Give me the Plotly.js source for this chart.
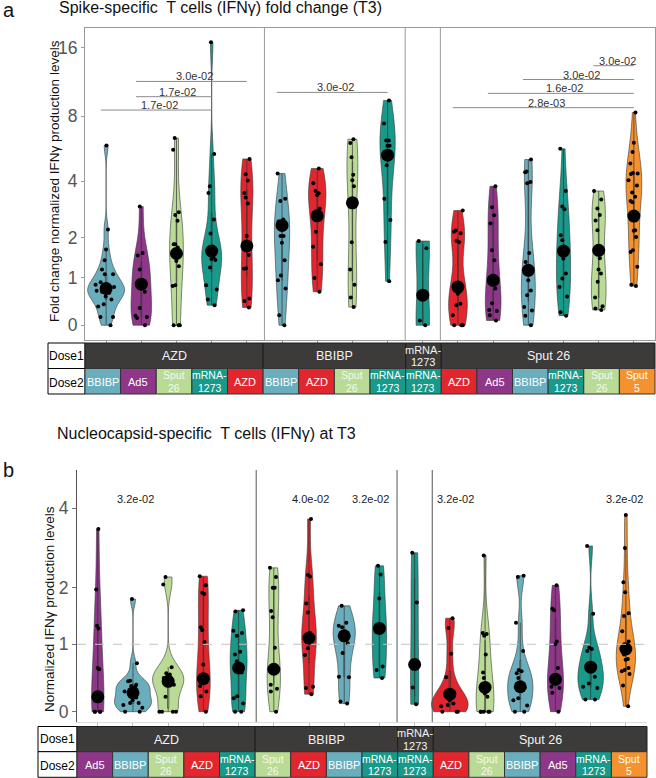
<!DOCTYPE html>
<html><head><meta charset="utf-8">
<script src="https://cdn.plot.ly/plotly-3.0.1.min.js"></script>
<style>body{margin:0;background:#fff}#chart{width:656px;height:778px}</style>
</head><body><div id="chart"></div>
<script>
// ---------------- DATA ----------------
const dose1Groups = ['AZD', 'BBIBP', 'mRNA-1273', 'Sput 26'];
const dose1Counts = [5, 4, 1, 6];

const spikeDose2 = ['BBIBP','Ad5','Sput 26','mRNA-1273','AZD','BBIBP','AZD','Sput 26','mRNA-1273','mRNA-1273','AZD','Ad5','BBIBP','mRNA-1273','Sput 26','Sput 5'];
const spikeValues = [
  [6.2, 2.28, 1.7, 1.43, 1.2, 1.08, 1.08, 0.9, 0.85, 0.8, 0.78, 0.75, 0.72, 0.7, 0.68, 0.6, 0.54, 0.44, 0.39, 0.17, 0.17, 0],
  [3.1, 1.61, 1.55, 1.2, 0.94, 0.94, 0.7, 0.36, 0.2, 0.17, 0.15, 0],
  [6.65, 5.93, 2.9, 2.8, 2.59, 1.83, 1.83, 1.75, 1.41, 1.28, 0.84, 0.82, 0, 0, 0],
  [16.6, 5.68, 3.82, 3.58, 2.64, 2.14, 1.73, 1.65, 1.6, 1.5, 1.46, 1.44, 1.25, 0.84, 0.75, 0.54, 0.42],
  [5.37, 4.43, 4.04, 3.58, 3.42, 3.21, 2.05, 1.56, 1.23, 1.22, 0.56, 0.51, 0.37],
  [4.47, 3.38, 3.3, 2.64, 2.57, 2.05, 2.05, 1.87, 1.43, 1.05, 0.94, 0.77, 0.21, 0],
  [4.78, 3.93, 3.65, 3.57, 3.5, 3.03, 2.2, 1.77, 1.33, 0.99, 0.7],
  [6.58, 6.35, 5.48, 4.39, 4.06, 3.82, 1.88, 1.2, 0.85, 0.58, 0.38],
  [9.83, 7.55, 6.5, 6.5, 6.18, 6.18, 4.98, 3.38, 2.62, 1.89, 0.92],
  [1.91, 1.73, 0.1, 0],
  [2.96, 2.25, 2.2, 2.15, 1.92, 1.88, 0.85, 0.8, 0.7, 0.66, 0.45, 0.42, 0.21, 0, 0, 0],
  [3.82, 3.07, 2.79, 2.5, 1.68, 1.43, 0.99, 0.77, 0.46, 0.32, 0.3, 0.21, 0.1],
  [5.33, 4.6, 4.55, 3.97, 3.93, 1.61, 1.39, 1.25, 1.15, 0.94, 0.73, 0.63, 0.38, 0.31, 0.2, 0],
  [5.99, 3.65, 3.1, 3.0, 2.08, 1.93, 1.75, 1.47, 1.1, 0.98, 0.8, 0.6, 0.27, 0.2],
  [3.65, 3.35, 3.03, 2.8, 2.6, 2.26, 1.48, 1.2, 1.1, 0.91, 0.58, 0.4, 0.35, 0.32],
  [8.43, 6.37, 5.8, 5.09, 4.5, 4.47, 4.44, 4.06, 3.85, 3.6, 3.45, 3.3, 3.25, 2.26, 2.24, 2.02, 1.68, 1.64, 1.27, 0.85, 0.82]
];
const spikeCenters = [0.77, 0.86, 1.6, 1.66, 1.79, 2.43, 2.77, 3.23, 5.6, 0.63, 0.8, 0.94, 1.18, 1.66, 1.68, 2.76];
const spikePairs = [[0, 3], [1, 3], [1, 4], [5, 8], [10, 15], [11, 15], [12, 15], [14, 15]];
const spikePvals = ['1.7e-02', '1.7e-02', '3.0e-02', '3.0e-02', '2.8e-03', '1.6e-02', '3.0e-02', '3.0e-02'];

const nucDose2 = ['Ad5','BBIBP','Sput 26','AZD','mRNA-1273','Sput 26','AZD','BBIBP','mRNA-1273','mRNA-1273','AZD','Sput 26','BBIBP','Ad5','mRNA-1273','Sput 5'];
const nucValues = [
  [3.48, 1.97, 1.33, 1.28, 0.65, 0.63, 0.21, 0, 0, 0, 0],
  [1.8, 0.72, 0.46, 0.45, 0.4, 0.38, 0.37, 0.3, 0.27, 0.21, 0.17, 0.13, 0.13, 0.1, 0.06, 0, 0],
  [2.27, 2.08, 0.66, 0.57, 0.55, 0.5, 0.48, 0.45, 0.42, 0.4, 0.22, 0, 0, 0, 0],
  [2.29, 2.06, 1.91, 1.89, 1.3, 1.25, 1.04, 0.7, 0.49, 0.45, 0.38, 0.3, 0.23, 0],
  [1.6, 1.58, 1.24, 1.2, 1.15, 0.89, 0.85, 0.75, 0.62, 0.6, 0.58, 0.23, 0.2, 0.12, 0, 0],
  [2.5, 2.27, 2.0, 2.0, 1.59, 1.48, 0.95, 0.63, 0.6, 0.58, 0.4, 0.34, 0.3, 0],
  [3.73, 2.32, 2.28, 1.72, 1.56, 1.2, 1.17, 1.11, 0.94, 0.84, 0.37, 0.35, 0.26],
  [1.68, 1.38, 1.33, 1.3, 1.2, 1.12, 1.02, 0.87, 0.52, 0.51, 0.15, 0.12],
  [2.55, 2.33, 1.81, 1.31, 1.28, 1.22, 0.67, 0.62, 0.5],
  [2.88, 1.74, 0.36, 0.11],
  [1.46, 1.29, 0.86, 0.51, 0.3, 0.26, 0.17, 0.12, 0.1, 0.08, 0, 0, 0],
  [2.81, 1.2, 1.18, 1.15, 0.85, 0.58, 0.5, 0.36, 0.27, 0.22, 0, 0, 0, 0, 0],
  [2.3, 2.27, 1.38, 0.9, 0.62, 0.6, 0.57, 0.5, 0.37, 0.36, 0.35, 0.2, 0.17, 0.09, 0, 0],
  [2.06, 1.63, 1.6, 1.05, 1.0, 0.65, 0.48, 0.37, 0.35, 0.28, 0],
  [3.05, 1.54, 0.95, 0.93, 0.9, 0.66, 0.63, 0.6, 0.52, 0.42, 0.37, 0.35, 0.18, 0.18],
  [3.83, 3.0, 2.14, 1.92, 1.55, 1.5, 1.23, 1.05, 1.0, 0.95, 0.93, 0.85, 0.78, 0.77, 0.65, 0.62, 0.6, 0.56, 0.39, 0.08]
];
const nucCenters = [0.22, 0.28, 0.45, 0.49, 0.65, 0.63, 1.11, 1.15, 1.28, 0.7, 0.26, 0.36, 0.37, 0.48, 0.66, 0.93];
const nucPvals = ['3.2e-02', '4.0e-02', '3.2e-02', '3.2e-02', '3.2e-02'];

const spikeTicks = [0, 1, 2, 4, 8, 16];
const nucTicks = [0, 1, 2, 4];

// ---------------- STYLE / SCALE ----------------
const vaxColor = {'BBIBP':'#6aaebd','Ad5':'#8e3789','Sput 26':'#b9db95','mRNA-1273':'#18998a','AZD':'#e2262d','Sput 5':'#f4922f'};
const TV = [0, 1, 2, 4, 8, 16];
const TP = [0, 1, 1.839, 3.019, 4.382, 5.822];
function tf(v) {
  for (let i = 1; i < TV.length; i++) if (v <= TV[i]) return TP[i-1] + (v - TV[i-1]) / (TV[i] - TV[i-1]) * (TP[i] - TP[i-1]);
  const n = TV.length - 1;
  return TP[n] + (v - TV[n]) / (TV[n] - TV[n-1]) * (TP[n] - TP[n-1]);
}
function nrd0(a) {
  const n = a.length, m = a.reduce((s, x) => s + x, 0) / n;
  const sd = Math.sqrt(a.reduce((s, x) => s + (x - m) ** 2, 0) / (n - 1));
  const s = [...a].sort((p, q) => p - q);
  const qt = p => { const h = (n - 1) * p, lo = Math.floor(h); return s[lo] + (h - lo) * (s[Math.min(lo + 1, n - 1)] - s[lo]); };
  const iqr = qt(0.75) - qt(0.25);
  let lo = Math.min(sd, iqr / 1.34);
  if (!(lo > 0)) lo = sd || 1;
  return 0.9 * lo * Math.pow(n, -0.2);
}
function kdeMax(t, bw) {
  const lo = Math.min(...t), hi = Math.max(...t);
  let m = 0;
  for (let k = 0; k <= 300; k++) {
    const x = lo + (hi - lo) * k / 300;
    let s = 0;
    for (const v of t) s += Math.exp(-0.5 * ((x - v) / bw) ** 2);
    m = Math.max(m, s / (t.length * bw * Math.sqrt(2 * Math.PI)));
  }
  return m;
}
const W = 656, H = 778;
const px = x => x / W, py = y => 1 - y / H;
const FONT = 'Liberation Sans, Arial, sans-serif';

const traces = [];
function addViolins(values, dose2, centers, xa, ya, baseW) {
  const tv = values.map(v => v.map(tf));
  const bws = tv.map(nrd0);
  const km = tv.map((t, i) => kdeMax(t, bws[i]));
  const gmax = Math.max(...km);
  tv.forEach((t, i) => {
    traces.push({
      type: 'violin', x0: i, y: t, xaxis: xa, yaxis: ya,
      fillcolor: vaxColor[dose2[i]], line: {color: '#3a3a3a', width: 0.6},
      points: 'all', pointpos: 0, jitter: 0.7,
      marker: {size: 4, color: '#000'},
      spanmode: 'hard', bandwidth: bws[i],
      scalemode: 'width', width: Math.min(1.05, baseW * km[i] / gmax), scalegroup: 'g' + xa + i,
      box: {visible: true, width: 0.04, fillcolor: 'rgba(0,0,0,0)', line: {color: '#333', width: 0.7}},
      meanline: {visible: false}, hoverinfo: 'skip', showlegend: false
    });
  });
  traces.push({
    type: 'scatter', mode: 'markers', xaxis: xa, yaxis: ya,
    x: centers.map((c, i) => i), y: centers.map(tf),
    marker: {size: 13, color: '#000'}, hoverinfo: 'skip', showlegend: false
  });
}
addViolins(spikeValues, spikeDose2, spikeCenters, 'x', 'y', 1.12);
addViolins(nucValues, nucDose2, nucCenters, 'x2', 'y2', 1.25);

const shapes = [], annotations = [];
function rect(x0, y0, x1, y1, fill, lc) {
  shapes.push({type: 'rect', xref: 'paper', yref: 'paper', x0: px(x0), x1: px(x1), y0: py(y1), y1: py(y0),
    fillcolor: fill, line: {color: lc, width: 1}, layer: 'above'});
}
function label(x, y, text, size, color) {
  annotations.push({xref: 'paper', yref: 'paper', x: px(x), y: py(y), text: text, showarrow: false,
    xanchor: 'center', yanchor: 'middle', borderpad: 0, font: {family: FONT, size: size, color: color}});
}
function twoLine(x, yc, a, b, size, color) {
  label(x, yc - 5.9, a, size, color);
  label(x, yc + 6.5, b, size, color);
}
function dose2Text(x, yc, name, color) {
  if (name === 'Sput 26') twoLine(x, yc, 'Sput', '26', 10.5, color);
  else if (name === 'mRNA-1273') twoLine(x, yc, 'mRNA-', '1273', 10.5, color);
  else if (name === 'Sput 5') twoLine(x, yc, 'Sput', '5', 10.5, color);
  else label(x, yc + 0.5, name, 11, color);
}
function addTable(L, R, yA, yB, yC, labL, dose2) {
  const cw = (R - L) / 16;
  rect(labL, yA, L, yB, '#fff', '#000');
  rect(labL, yB, L, yC, '#fff', '#000');
  label((labL + L) / 2, (yA + yB) / 2, 'Dose1', 12, '#000');
  label((labL + L) / 2, (yB + yC) / 2 + 1.5, 'Dose2', 12, '#000');
  let k = 0;
  dose1Groups.forEach((g, gi) => {
    const n = dose1Counts[gi];
    rect(L + k * cw, yA, L + (k + n) * cw, yB, '#3d3a3a', '#1e1e1e');
    const xc = L + (k + n / 2) * cw, yc = (yA + yB) / 2;
    if (g === 'mRNA-1273') twoLine(xc, yc, 'mRNA-', '1273', 11, '#f2f2f2');
    else label(xc, yc + 0.5, g, 12.5, '#f2f2f2');
    k += n;
  });
  dose2.forEach((d, i) => {
    rect(L + i * cw, yB, L + (i + 1) * cw, yC, vaxColor[d], '#333');
    dose2Text(L + (i + 0.5) * cw, (yB + yC) / 2, d, d === 'Sput 26' ? '#f4f9ee' : '#fff');
  });
}
addTable(85, 655, 343, 368.5, 394, 48, spikeDose2);
addTable(77, 647, 726.5, 751.7, 777.3, 38, nucDose2);

// separators
[4.5, 8.5, 9.5].forEach(s => {
  shapes.push({type: 'line', xref: 'x', yref: 'paper', x0: s, x1: s, y0: py(340), y1: py(28), line: {color: '#9a9a9a', width: 1}});
  shapes.push({type: 'line', xref: 'x2', yref: 'paper', x0: s, x1: s, y0: py(722), y1: py(470), line: {color: '#555', width: 1}});
});
// dashed reference line at 1 (bottom)
shapes.push({type: 'line', xref: 'paper', yref: 'y2', x0: px(77), x1: px(647), y0: tf(1), y1: tf(1), line: {color: '#c4c4c4', width: 1, dash: 'dash'}});

// p-value brackets (top)
const barLevels = [4.51, 4.79, 5.11, 4.88, 4.56, 4.86, 5.15, 5.44];
spikePairs.forEach((p, i) => {
  const x0 = p[0] - 0.15, x1 = p[1];
  shapes.push({type: 'line', xref: 'x', yref: 'y', x0: x0, x1: x1, y0: barLevels[i], y1: barLevels[i], line: {color: '#8a8a8a', width: 1}});
  annotations.push({xref: 'x', yref: 'y', x: (x0 + x1) / 2 + 0.1, y: barLevels[i], yanchor: 'bottom', yshift: -3, text: spikePvals[i],
    showarrow: false, font: {family: FONT, size: 11, color: '#333'}});
});
// p-value labels (bottom)
const nucPX = [1.06, 6.03, 7.76, 10.17, 14.95];
nucPvals.forEach((p, i) => {
  annotations.push({xref: 'x2', yref: 'y2', x: nucPX[i], y: 3.156, text: p, showarrow: false, font: {family: FONT, size: 11, color: '#222'}});
});

// titles & panel letters
annotations.push({xref: 'paper', yref: 'paper', x: px(57), y: py(8), xanchor: 'left', yanchor: 'middle', showarrow: false,
  text: 'Spike-specific  T cells (IFNγ) fold change (T3)', font: {family: FONT, size: 16, color: '#111'}});
annotations.push({xref: 'paper', yref: 'paper', x: px(55), y: py(433), xanchor: 'left', yanchor: 'middle', showarrow: false,
  text: 'Nucleocapsid-specific  T cells (IFNγ) at T3', font: {family: FONT, size: 16, color: '#111'}});
annotations.push({xref: 'paper', yref: 'paper', x: px(1), y: py(10), xanchor: 'left', yanchor: 'middle', showarrow: false,
  text: 'a', font: {family: FONT, size: 20, color: '#111'}});
annotations.push({xref: 'paper', yref: 'paper', x: px(1), y: py(470), xanchor: 'left', yanchor: 'middle', showarrow: false,
  text: 'b', font: {family: FONT, size: 20, color: '#111'}});
annotations.push({xref: 'paper', yref: 'paper', x: px(54), y: py(181), xanchor: 'center', yanchor: 'middle', textangle: -90, showarrow: false,
  text: 'Fold change normalized IFNγ production levels', font: {family: FONT, size: 13.5, color: '#111'}});
annotations.push({xref: 'paper', yref: 'paper', x: px(49), y: py(609), xanchor: 'center', yanchor: 'middle', textangle: -90, showarrow: false,
  text: 'Normalized IFNγ production levels', font: {family: FONT, size: 13.5, color: '#111'}});

const idx = spikeValues.map((v, i) => i);
const layout = {
  width: W, height: H, margin: {l: 0, r: 0, t: 0, b: 0},
  paper_bgcolor: '#fff', plot_bgcolor: '#fff', showlegend: false, violinmode: 'overlay',
  font: {family: FONT},
  xaxis: {domain: [px(85), px(655)], range: [-0.6, 15.6], type: 'linear', anchor: 'y',
    showline: true, mirror: true, linecolor: '#9a9a9a', linewidth: 1, showgrid: false, zeroline: false,
    tickvals: idx, showticklabels: false, ticks: 'outside', ticklen: 4, tickcolor: '#9a9a9a'},
  yaxis: {domain: [py(340), py(28)], range: [-0.31, 6.23], anchor: 'x',
    showline: true, mirror: true, linecolor: '#9a9a9a', linewidth: 1, showgrid: false, zeroline: false,
    tickvals: spikeTicks.map(tf), ticktext: spikeTicks.map(String), ticks: 'outside', ticklen: 3, tickcolor: '#9a9a9a',
    tickfont: {family: FONT, size: 17.5, color: '#555'}},
  xaxis2: {domain: [px(77), px(647)], range: [-0.59, 15.6], type: 'linear', anchor: 'y2',
    showline: true, linecolor: '#dcdcdc', linewidth: 1, showgrid: false, zeroline: false,
    tickvals: idx, showticklabels: false, ticks: 'outside', ticklen: 4, tickcolor: '#bdbdbd'},
  yaxis2: {domain: [py(722), py(470)], range: [-0.153, 3.586], anchor: 'x2',
    showline: true, linecolor: '#555', linewidth: 1, showgrid: false, zeroline: false,
    tickvals: nucTicks.map(tf), ticktext: nucTicks.map(String), ticks: 'outside', ticklen: 4, tickcolor: '#777',
    tickfont: {family: FONT, size: 17.5, color: '#555'}},
  shapes: shapes, annotations: annotations
};
Plotly.newPlot('chart', traces, layout, {staticPlot: true});
</script>
</body></html>
